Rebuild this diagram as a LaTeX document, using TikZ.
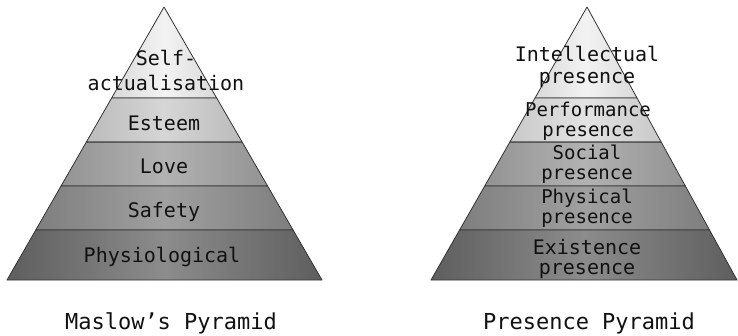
\documentclass[tikz,border=0pt]{standalone}
\usepackage{fontspec}
\newfontfamily\pyrfont{DejaVu Sans Mono}
\usetikzlibrary{calc}
\definecolor{pyline}{HTML}{333333}
\definecolor{pytxt}{HTML}{111111}
\definecolor{lvAe}{HTML}{D9D9D9}
\definecolor{lvAm}{HTML}{F3F3F3}
\definecolor{lvBe}{HTML}{BBBBBB}
\definecolor{lvBm}{HTML}{D6D6D6}
\definecolor{lvBpe}{HTML}{C9C9C9}
\definecolor{lvBpm}{HTML}{E3E3E3}
\definecolor{lvCe}{HTML}{939393}
\definecolor{lvCm}{HTML}{B2B2B2}
\definecolor{lvDe}{HTML}{7E7E7E}
\definecolor{lvDm}{HTML}{A0A0A0}
\definecolor{lvEe}{HTML}{5E5E5E}
\definecolor{lvEm}{HTML}{8C8C8C}

\begin{document}
\begin{tikzpicture}[x=1pt, y=-1pt,
  band/.style 2 args={left color=#1, right color=#1, middle color=#2,
                      draw=pyline, line width=0.8pt, line join=round},
  lbl/.style={font=\pyrfont\fontsize{20}{#1}\selectfont, text=pytxt,
              align=center, inner sep=0pt},
  lbl/.default=20,
  tightlbl/.style={lbl, font=\pyrfont\fontsize{19}{20}\selectfont},
  pyrcaption/.style={font=\pyrfont\fontsize{22}{22}\selectfont, text=pytxt, inner sep=0pt},
]
  \useasboundingbox (0,0) rectangle (738,335);
  \fill[white] (0,0) rectangle (738,335);

  % Maslow
  \coordinate (mA) at (164,7);
  \coordinate (mL) at (7,280);
  \coordinate (mR) at (322,280);
  \path[band={lvAe}{lvAm}] (mA) -- ($(mA)!0.333!(mL)$) -- ($(mA)!0.333!(mR)$) -- cycle;
  \path[band={lvBe}{lvBm}] ($(mA)!0.333!(mL)$) -- ($(mA)!0.495!(mL)$)
    -- ($(mA)!0.495!(mR)$) -- ($(mA)!0.333!(mR)$) -- cycle;
  \path[band={lvCe}{lvCm}] ($(mA)!0.495!(mL)$) -- ($(mA)!0.656!(mL)$)
    -- ($(mA)!0.656!(mR)$) -- ($(mA)!0.495!(mR)$) -- cycle;
  \path[band={lvDe}{lvDm}] ($(mA)!0.656!(mL)$) -- ($(mA)!0.817!(mL)$)
    -- ($(mA)!0.817!(mR)$) -- ($(mA)!0.656!(mR)$) -- cycle;
  \path[band={lvEe}{lvEm}] ($(mA)!0.817!(mL)$) -- (mL) -- (mR)
    -- ($(mA)!0.817!(mR)$) -- cycle;

  \node[lbl=25] (self) at (166,70) {Self-\\actualisation};
  \node[lbl] (esteem) at (164,123) {Esteem};
  \node[lbl] (love) at (164,166) {Love};
  \node[lbl] (safety) at (164,212) {Safety};
  \node[lbl] (physio) at (162,257) {Physiological};
  \node[pyrcaption] (maslow) at (171,323) {Maslow’s Pyramid};

  % Presence
  \coordinate (pA) at (587,7);
  \coordinate (pL) at (431,280);
  \coordinate (pR) at (737,280);
  \path[band={lvAe}{lvAm}] (pA) -- ($(pA)!0.333!(pL)$) -- ($(pA)!0.333!(pR)$) -- cycle;
  \path[band={lvBpe}{lvBpm}] ($(pA)!0.333!(pL)$) -- ($(pA)!0.495!(pL)$)
    -- ($(pA)!0.495!(pR)$) -- ($(pA)!0.333!(pR)$) -- cycle;
  \path[band={lvCe}{lvCm}] ($(pA)!0.495!(pL)$) -- ($(pA)!0.656!(pL)$)
    -- ($(pA)!0.656!(pR)$) -- ($(pA)!0.495!(pR)$) -- cycle;
  \path[band={lvDe}{lvDm}] ($(pA)!0.656!(pL)$) -- ($(pA)!0.817!(pL)$)
    -- ($(pA)!0.817!(pR)$) -- ($(pA)!0.656!(pR)$) -- cycle;
  \path[band={lvEe}{lvEm}] ($(pA)!0.817!(pL)$) -- (pL) -- (pR)
    -- ($(pA)!0.817!(pR)$) -- cycle;

  \node[lbl=22] (intel) at (587,67) {Intellectual\\presence};
  \node[tightlbl] (perf) at (588,121) {Performance\\presence};
  \node[tightlbl] (social) at (587,164) {Social\\presence};
  \node[tightlbl] (phys) at (587,208) {Physical\\presence};
  \node[lbl=20] (exist) at (587,259) {Existence\\presence};
  \node[pyrcaption] (presence) at (589,323) {Presence Pyramid};
\end{tikzpicture}
\end{document}
